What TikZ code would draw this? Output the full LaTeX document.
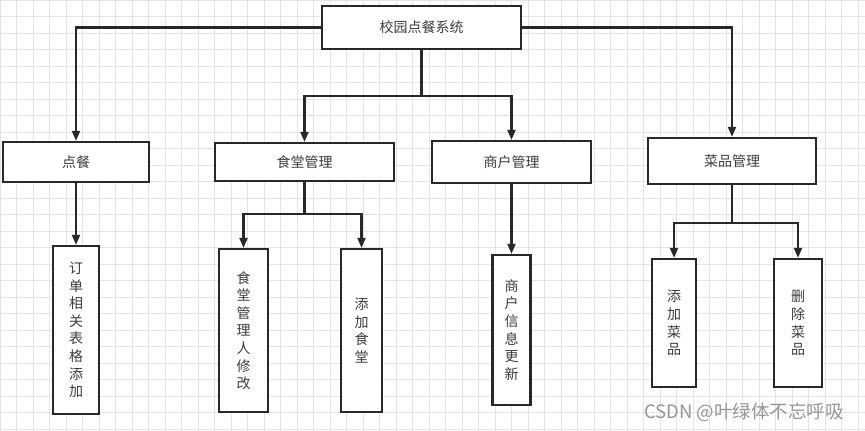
\documentclass[tikz,border=0pt]{standalone}
\usepackage{fontspec}
\setmainfont{Noto Sans CJK SC}
\usetikzlibrary{arrows.meta}
\definecolor{gridc}{RGB}{228,228,228}
\definecolor{ink}{RGB}{40,40,40}
\definecolor{txt}{RGB}{60,60,60}
\definecolor{wm}{RGB}{150,150,150}
\tikzset{
  box/.style={draw=ink, line width=2.3pt, fill=white, inner sep=0pt, text=txt,
    font=\fontsize{14}{17.6}\selectfont, align=center},
  conn/.style={draw=ink, line width=2.1pt},
  arr/.style={conn, -{Triangle[length=10pt,width=8pt]}},
}
\begin{document}
\begin{tikzpicture}[x=1pt,y=-1pt]
\useasboundingbox (0,0) rectangle (865,431);
\fill[white] (0,0) rectangle (865,431);
% grid
\foreach \i in {0,...,53} {\draw[gridc, line width=0.9pt] ({\i*16.5},0) -- ({\i*16.5},431);}
\foreach \j in {0,...,26} {\draw[gridc, line width=0.9pt] (0,{\j*16.5}) -- (865,{\j*16.5});}
% nodes
\node[box, minimum width=199, minimum height=43] (top) at (421.5,27.5) {校园点餐系统};
\node[box, minimum width=146, minimum height=40] (dc) at (76,162) {点餐};
\node[box, minimum width=179, minimum height=38] (st) at (304.5,162) {食堂管理};
\node[box, minimum width=159, minimum height=42] (sh) at (511.5,162) {商户管理};
\node[box, minimum width=168, minimum height=46] (cp) at (732,161) {菜品管理};
\node[box, minimum width=46, minimum height=168] (dd) at (76,330) {订\\单\\相\\关\\表\\格\\添\\加};
\node[box, minimum width=49, minimum height=163] (sg1) at (243.5,330.5) {食\\堂\\管\\理\\人\\修\\改};
\node[box, minimum width=41, minimum height=163] (sg2) at (361.5,330.5) {添\\加\\食\\堂};
\node[box, minimum width=38, minimum height=150] (sh1) at (511.5,330) {商\\户\\信\\息\\更\\新};
\node[box, minimum width=44, minimum height=128] (cp1) at (674,323) {添\\加\\菜\\品};
\node[box, minimum width=48, minimum height=128] (cp2) at (798,323) {删\\除\\菜\\品};
% junctions
\coordinate (j1) at (421.5,96);
\coordinate (j2) at (304.5,214);
\coordinate (j3) at (732,223);
% connectors
\draw[arr] (top.west) -| (dc.north);
\draw[arr] (top.east) -| (cp.north);
\draw[conn] (top.south) -- (j1);
\draw[arr] (j1) -| (st.north);
\draw[arr] (j1) -| (sh.north);
\draw[arr] (dc.south) -- (dd.north);
\draw[conn] (st.south) -- (j2);
\draw[arr] (j2) -| (sg1.north);
\draw[arr] (j2) -| (sg2.north);
\draw[arr] (sh.south) -- (sh1.north);
\draw[conn] (cp.south) -- (j3);
\draw[arr] (j3) -| (cp1.north);
\draw[arr] (j3) -| (cp2.north);
% watermark
\node[text=wm, font=\fontsize{18.5}{22}\selectfont, inner sep=0pt] (wmk) at (744,412) {CSDN @叶绿体不忘呼吸};
\end{tikzpicture}
\end{document}
